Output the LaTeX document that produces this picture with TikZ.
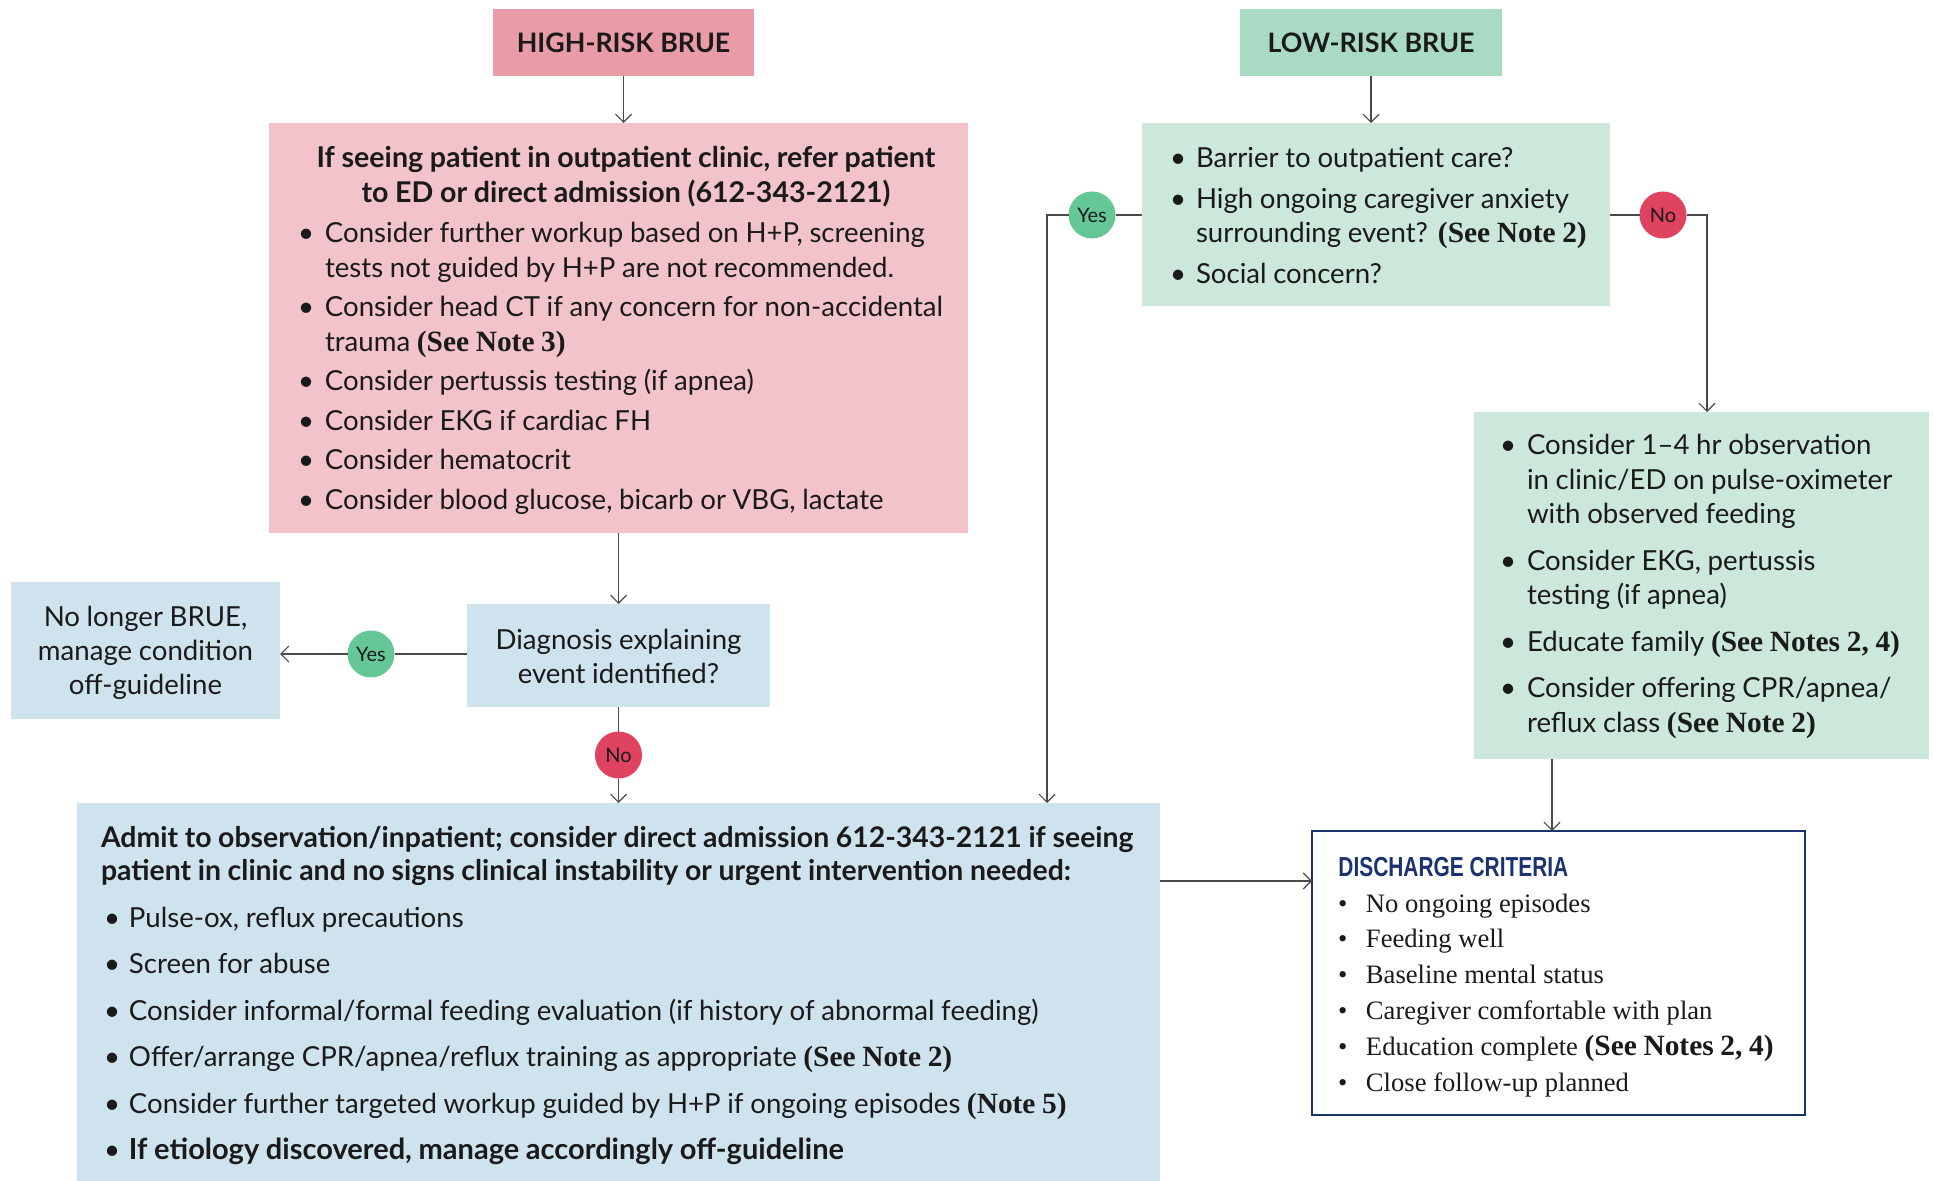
\documentclass[tikz,border=0pt]{standalone}
\usepackage{fontspec}
\setmainfont{Lato}
\newfontfamily\serifnote{Liberation Serif}
\newfontfamily\headsans{Liberation Sans}
\usetikzlibrary{arrows.meta,fit,calc}

\definecolor{hrfill}{HTML}{E99CA7}
\definecolor{pinkfill}{HTML}{F2C3CA}
\definecolor{lrfill}{HTML}{A9DBC4}
\definecolor{greenfill}{HTML}{CCE8DA}
\definecolor{bluefill}{HTML}{CFE3EF}
\definecolor{yesfill}{HTML}{66C796}
\definecolor{nofill}{HTML}{E0435F}
\definecolor{navy}{HTML}{1A3270}
\definecolor{linec}{HTML}{4A4A4A}
\definecolor{txt}{HTML}{1A1A1A}

\newlength\bind
\newlength\bgap
\newcommand\bline[1]{\hangindent=\bind\hangafter=1\noindent\makebox[\bind][l]{\textbullet}\rule{0pt}{14pt}#1}
\newcommand\bfirst[1]{\bline{#1}}
\newcommand\bitem[1]{\par\vspace{\bgap}\bline{#1}}
\newcommand\nt[1]{{\serifnote\bfseries\fontsize{14.7pt}{17.25pt}\selectfont #1}}
\newcommand\bset[3]{\fontsize{#1}{#2}\selectfont\lineskiplimit=-100pt\lineskip=0pt\setlength\parskip{0pt}\setlength\bgap{#3}\setlength\parindent{0pt}}

\begin{document}
\begin{tikzpicture}[x=0.5pt,y=-0.5pt,
  bx/.style={inner sep=0pt,outer sep=0pt},
  tx/.style={inner sep=0pt,outer sep=0pt,text=txt},
  ln/.style={draw=linec,line width=0.6pt},
  arr/.style={draw=linec,line width=0.6pt,-{Straight Barb[length=4pt,width=8pt]}},
  circ/.style={circle,minimum size=23.5pt,inner sep=0pt,outer sep=0pt,text=txt,font=\fontsize{10pt}{12pt}\selectfont}]
\useasboundingbox (0,0) rectangle (1933,1181);

% boxes
\node[bx,fit={(493,9)(754,76)},fill=hrfill] (hr) {};
\node[bx,fit={(1240,9)(1502,76)},fill=lrfill] (lr) {};
\node[bx,fit={(269,123)(968,533)},fill=pinkfill] (pink) {};
\node[bx,fit={(467,604)(770,707)},fill=bluefill] (diag) {};
\node[bx,fit={(11,582)(280,719)},fill=bluefill] (nolong) {};
\node[bx,fit={(77,803)(1160,1181)},fill=bluefill] (admit) {};
\node[bx,fit={(1142,123)(1610,306)},fill=greenfill] (gt) {};
\node[bx,fit={(1474,412)(1929,759)},fill=greenfill] (rg) {};
\node[bx,fit={(1312,831)(1805,1115)},fill=white,draw=navy,line width=0.75pt] (dc) {};

% texts
\node[tx,font=\fontsize{13.4pt}{16pt}\selectfont\bfseries] (hrT) at (hr.center) {HIGH-RISK BRUE};
\node[tx,font=\fontsize{13.4pt}{16pt}\selectfont\bfseries] (lrT) at (lr.center) {LOW-RISK BRUE};
\node[tx,anchor=north,text width=345pt] (pinkT) at (626,140)
  {\bset{14.3pt}{17.25pt}{0pt}\centering\bfseries\rule{0pt}{14pt}If seeing patient in outpatient clinic, refer patient\par to ED or direct admission (612-343-2121)\par};
\node[tx,anchor=north west,text width=335pt] (pinkB) at (298,215)
  {\bset{13.8pt}{17.25pt}{2.5pt}\raggedright\setlength\bind{13.5pt}%
   \bfirst{Consider further workup based on H+P, screening\newline tests not guided by H+P are not recommended.}
   \bitem{Consider head CT if any concern for non-accidental\newline trauma \nt{(See Note 3)}}
   \bitem{Consider pertussis testing (if apnea)}
   \bitem{Consider EKG if cardiac FH}
   \bitem{Consider hematocrit}
   \bitem{Consider blood glucose, bicarb or VBG, lactate}\par};
\node[tx,anchor=north,text width=150pt] (diagT) at (618.5,622)
  {\bset{13.8pt}{16.75pt}{0pt}\centering\rule{0pt}{14pt}Diagnosis explaining\par event identified?\par};
\node[tx,anchor=north,text width=134pt] (nolongT) at (145.5,599)
  {\bset{13.8pt}{17pt}{0pt}\centering\rule{0pt}{14pt}No longer BRUE,\par manage condition\par off-guideline\par};
\node[tx,anchor=north west,text width=530pt] (admitT) at (101,819)
  {\bset{14.2pt}{16.75pt}{0pt}\raggedright\bfseries\rule{0pt}{14pt}Admit to observation/inpatient; consider direct admission 612-343-2121 if seeing\newline patient in clinic and no signs clinical instability or urgent intervention needed:\par};
\node[tx,anchor=north west,text width=525pt] (admitB) at (104,899)
  {\bset{13.8pt}{17.25pt}{6pt}\raggedright\setlength\bind{12.5pt}%
   \bfirst{Pulse-ox, reflux precautions}
   \bitem{Screen for abuse}
   \bitem{Consider informal/formal feeding evaluation (if history of abnormal feeding)}
   \bitem{Offer/arrange CPR/apnea/reflux training as appropriate \nt{(See Note 2)}}
   \bitem{Consider further targeted workup guided by H+P if ongoing episodes \nt{(Note 5)}}
   \bitem{{\bfseries\fontsize{14.5pt}{17.25pt}\selectfont If etiology discovered, manage accordingly off-guideline}}\par};
\node[tx,anchor=north west,text width=225pt] (gtB) at (1170,140)
  {\bset{13.8pt}{17.25pt}{3pt}\raggedright\setlength\bind{13pt}%
   \bfirst{Barrier to outpatient care?}
   \bitem{High ongoing caregiver anxiety\newline surrounding event? \nt{(See Note 2)}}
   \bitem{Social concern?}\par};
\node[tx,anchor=north west,text width=212pt] (rgB) at (1500,427)
  {\bset{13.8pt}{17.25pt}{6pt}\raggedright\setlength\bind{13.5pt}%
   \bfirst{Consider 1–4 hr observation\newline in clinic/ED on pulse-oximeter\newline with observed feeding}
   \bitem{Consider EKG, pertussis\newline testing (if apnea)}
   \bitem{Educate family \nt{(See Notes 2, 4)}}
   \bitem{Consider offering CPR/apnea/\newline reflux class \nt{(See Note 2)}}\par};
\node[anchor=base west,inner sep=0pt,text=navy,font=\headsans\bfseries\fontsize{13.75pt}{16pt}\selectfont] (dcH) at (1338,876)
  {\scalebox{0.76}[1]{DISCHARGE CRITERIA}};
\node[tx,anchor=north west,text width=235pt] (dcB) at (1338,884)
  {\serifnote\bset{13.3pt}{17.9pt}{0pt}\raggedright\setlength\bind{14pt}%
   \bfirst{No ongoing episodes}
   \bitem{Feeding well}
   \bitem{Baseline mental status}
   \bitem{Caregiver comfortable with plan}
   \bitem{Education complete \nt{(See Notes 2, 4)}}
   \bitem{Close follow-up planned}\par};

% decision circles
\node[circ,fill=yesfill] (yes1) at (371,654) {Yes};
\node[circ,fill=nofill] (no1) at (618.5,755) {No};
\node[circ,fill=yesfill] (yes2) at (1092,215) {Yes};
\node[circ,fill=nofill] (no2) at (1663,215) {No};
\coordinate (c1) at (1047,215);
\coordinate (c2) at (1707,215);
\coordinate (c3) at (1552,0);
\coordinate (c4) at (1160,881);

% connectors
\draw[arr] (hr.south) -- (hr.south |- pink.north);
\draw[arr] (lr.south) -- (lr.south |- gt.north);
\draw[arr] (pink.south -| diag.north) -- (diag.north);
\draw[ln] (yes1.east -| diag.west) -- (yes1.east);
\draw[arr] (yes1.west) -- (yes1.west -| nolong.east);
\draw[ln] (diag.south) -- (no1.north);
\draw[arr] (no1.south) -- (no1.south |- admit.north);
\draw[ln] (yes2.east -| gt.west) -- (yes2.east);
\draw[arr] (yes2.west) -- (c1) -- (c1 |- admit.north);
\draw[ln] (no2.west -| gt.east) -- (no2.west);
\draw[arr] (no2.east) -- (c2) -- (c2 |- rg.north);
\draw[arr] (c3 |- rg.south) -- (c3 |- dc.north);
\draw[arr] (c4) -- (c4 -| dc.west);
\end{tikzpicture}
\end{document}
